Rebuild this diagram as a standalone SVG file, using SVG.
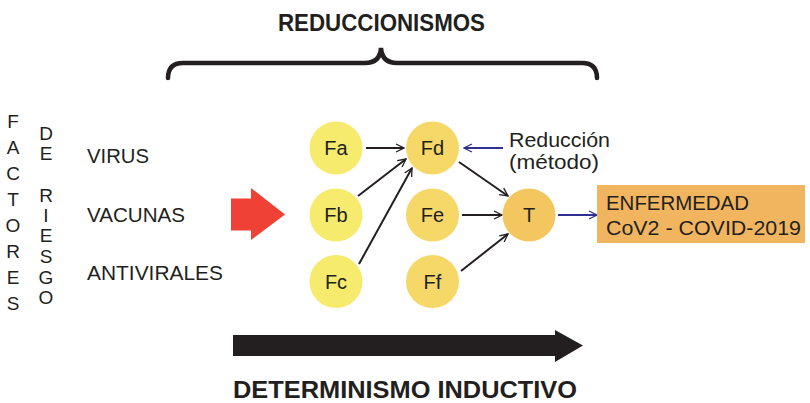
<svg xmlns="http://www.w3.org/2000/svg" width="810" height="403" viewBox="0 0 810 403">
<defs>
<marker id="ah" markerWidth="10" markerHeight="10" refX="9" refY="5" orient="auto" markerUnits="userSpaceOnUse">
<path d="M1,1 L9,5 L1,9" fill="none" stroke="#231f20" stroke-width="1.3"/>
</marker>
<marker id="ahb" markerWidth="10" markerHeight="10" refX="9" refY="5" orient="auto" markerUnits="userSpaceOnUse">
<path d="M1,1 L9,5 L1,9" fill="none" stroke="#2e3192" stroke-width="1.3"/>
</marker>
</defs>
<style>
text{font-family:"Liberation Sans",Arial,sans-serif;fill:#231f20}
.t{font-size:21px}
.r{font-size:20px}
.b{font-size:24px;font-weight:bold}
.n{font-size:20px;text-anchor:middle}
.v{font-size:19px;text-anchor:middle}
.c1{fill:#f6eb6c}
.c2{fill:#f5d868}
.c3{fill:#f3c660}
.e{stroke:#231f20;stroke-width:2;fill:none;marker-end:url(#ah)}
.eb{stroke:#2e3192;stroke-width:2;fill:none;marker-end:url(#ahb)}
</style>
<rect width="810" height="403" fill="#fff"/>
<g id="titulo">
<text class="b" x="381.5" y="31" text-anchor="middle" textLength="207" lengthAdjust="spacingAndGlyphs">REDUCCIONISMOS</text>
<path d="M168,78 Q168,63 183,63 L365,63 Q380,63 381,48 Q382,63 397,63 L582,63 Q597,63 597,78" fill="none" stroke="#231f20" stroke-width="4.5" stroke-linecap="round"/>
</g>
<g id="factores">
<text class="v" x="13" y="128">F</text>
<text class="v" x="13" y="154">A</text>
<text class="v" x="13" y="180">C</text>
<text class="v" x="13" y="206">T</text>
<text class="v" x="13" y="232">O</text>
<text class="v" x="13" y="258">R</text>
<text class="v" x="13" y="284">E</text>
<text class="v" x="13" y="310">S</text>
</g>
<g id="deriesgo">
<text class="v" x="46" y="140">D</text>
<text class="v" x="46" y="160">E</text>
<text class="v" x="46" y="202">R</text>
<text class="v" x="46" y="222">I</text>
<text class="v" x="46" y="242">E</text>
<text class="v" x="46" y="263">S</text>
<text class="v" x="46" y="284">G</text>
<text class="v" x="46" y="304">O</text>
</g>
<g id="lista">
<text class="t" x="87" y="163" textLength="62" lengthAdjust="spacingAndGlyphs">VIRUS</text>
<text class="t" x="87" y="222" textLength="98" lengthAdjust="spacingAndGlyphs">VACUNAS</text>
<text class="t" x="87" y="280" textLength="136" lengthAdjust="spacingAndGlyphs">ANTIVIRALES</text>
</g>
<g id="flecha-roja">
<path d="M231,198.5 L251,198.5 L251,188 L285,214.5 L251,240 L251,230.5 L231,230.5 Z" fill="#ef4136"/>
</g>
<g id="connectors">
<line class="e" x1="366" y1="148" x2="404" y2="148"/>
<line class="e" x1="358" y1="196" x2="406" y2="159"/>
<line class="e" x1="359" y1="264" x2="412" y2="168"/>
<line class="e" x1="459" y1="162" x2="508" y2="196"/>
<line class="e" x1="462" y1="215" x2="502" y2="215"/>
<line class="e" x1="461" y1="271" x2="508" y2="234"/>
<line class="eb" x1="503" y1="148" x2="464" y2="148"/>
<line class="eb" x1="558" y1="215" x2="597" y2="215"/>
</g>
<g id="Fa"><circle class="c1" cx="336" cy="148" r="26.5"/><text class="n" x="336" y="155">Fa</text></g>
<g id="Fb"><circle class="c1" cx="336" cy="215" r="26.5"/><text class="n" x="336" y="222">Fb</text></g>
<g id="Fc"><circle class="c1" cx="336" cy="281.5" r="26.5"/><text class="n" x="336" y="288.5">Fc</text></g>
<g id="Fd"><circle class="c2" cx="432.5" cy="148" r="26.5"/><text class="n" x="432.5" y="155">Fd</text></g>
<g id="Fe"><circle class="c2" cx="432.5" cy="215" r="26.5"/><text class="n" x="432.5" y="222">Fe</text></g>
<g id="Ff"><circle class="c2" cx="432.5" cy="281.5" r="26.5"/><text class="n" x="432.5" y="288.5">Ff</text></g>
<g id="T"><circle class="c3" cx="529" cy="215" r="26.5"/><text class="n" x="529" y="222">T</text></g>
<g id="reduccion">
<text class="r" x="509" y="147" textLength="101" lengthAdjust="spacingAndGlyphs">Reducción</text>
<text class="r" x="509" y="169" textLength="90" lengthAdjust="spacingAndGlyphs">(método)</text>
</g>
<g id="enfermedad">
<rect x="597" y="185" width="208" height="58" fill="#f2b55f"/>
<text class="t" x="606" y="210" textLength="143" lengthAdjust="spacingAndGlyphs">ENFERMEDAD</text>
<text class="t" x="606" y="235" textLength="195" lengthAdjust="spacingAndGlyphs">CoV2 - COVID-2019</text>
</g>
<g id="determinismo">
<path d="M233,335 L555,335 L555,330 L583,345.5 L555,362 L555,356 L233,356 Z" fill="#231f20"/>
<text class="b" x="233" y="398" style="font-size:23px" textLength="344" lengthAdjust="spacingAndGlyphs">DETERMINISMO INDUCTIVO</text>
</g>
</svg>
